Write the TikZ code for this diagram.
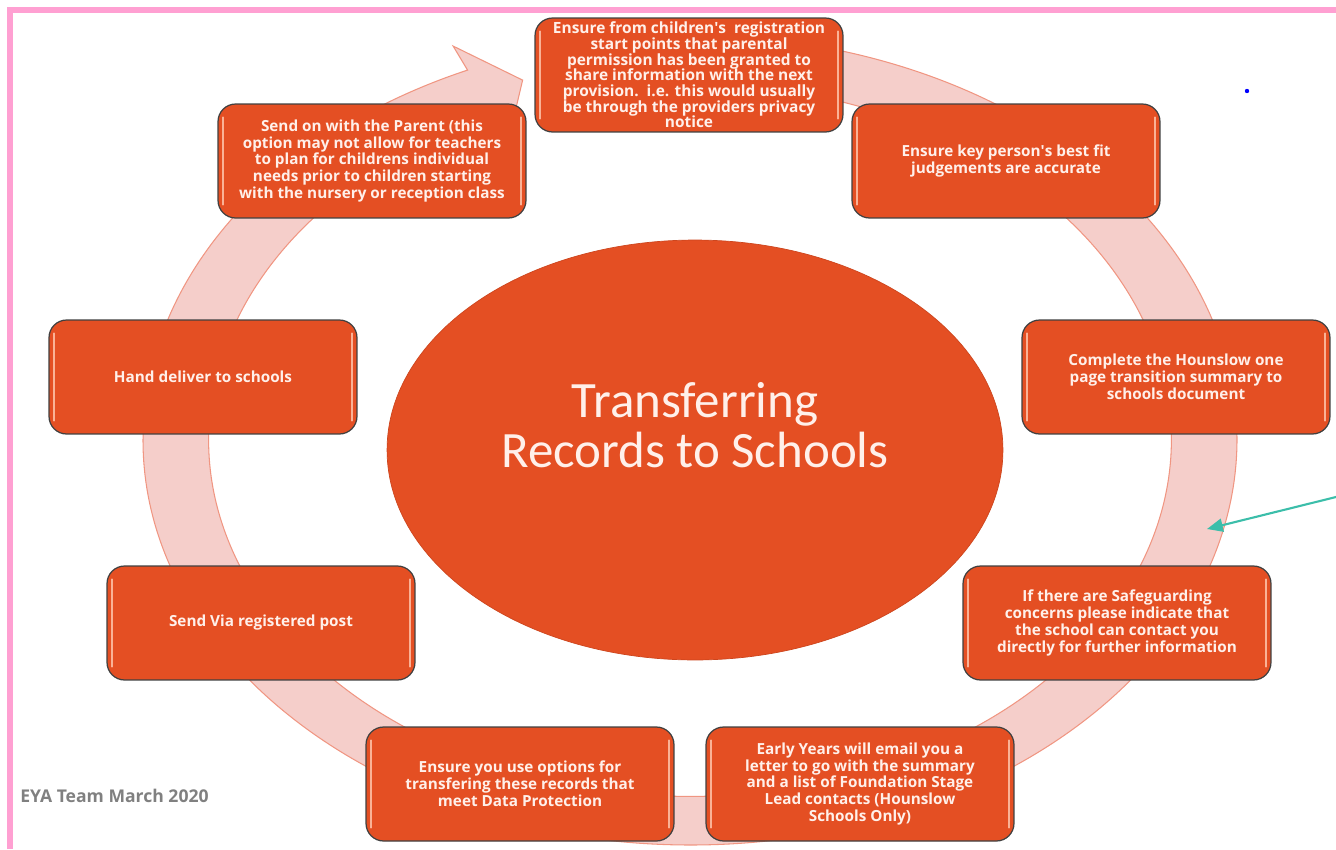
\documentclass[tikz,border=0pt]{standalone}
\usepackage{fontspec}
\setmainfont{Open Sans}
\newfontfamily\titlefont{Carlito}
\usetikzlibrary{shapes.geometric,arrows.meta}

\definecolor{boxorange}{RGB}{228,79,35}
\definecolor{boxedge}{RGB}{64,64,64}
\definecolor{boxtext}{RGB}{255,240,234}
\definecolor{glossline}{RGB}{250,178,150}
\definecolor{ringfill}{RGB}{245,206,202}
\definecolor{ringline}{RGB}{240,150,130}
\definecolor{framepink}{RGB}{255,160,210}
\definecolor{pointerteal}{RGB}{60,190,170}
\definecolor{creditgrey}{RGB}{128,128,128}

% light bevel strips down both sides of a step box
\newcommand{\boxgloss}[1]{%
  \draw[gloss] ([xshift=3.2pt,yshift=-8pt]#1.north west) -- ([xshift=3.2pt,yshift=8pt]#1.south west);
  \draw[gloss] ([xshift=-3.2pt,yshift=-8pt]#1.north east) -- ([xshift=-3.2pt,yshift=8pt]#1.south east);}

\begin{document}
\begin{tikzpicture}[x=0.02cm,y=-0.02cm,
  stepbox/.style={draw=boxedge, line width=0.7pt, fill=boxorange,
    rounded corners=10pt, minimum width=6.16cm, minimum height=2.28cm,
    inner sep=1pt, align=center, text=boxtext,
    font=\fontsize{8.7}{9.6}\selectfont\bfseries},
  gloss/.style={glossline, line width=1.3pt, line cap=round},
  hub/.style={ellipse, fill=boxorange, draw={rgb,255:red,205;green,70;blue,30},
    line width=0.4pt, minimum width=12.32cm, minimum height=8.4cm},
  hubtitle/.style={align=center, text=boxtext, inner sep=0pt,
    font=\titlefont\fontsize{29}{28.4}\selectfont},
  ring/.style={fill=ringfill, draw=ringline, line width=0.6pt},
  frame/.style={framepink, line width=3.4pt},
  pointer/.style={pointerteal, line width=1.2pt,
    -{Triangle[length=9pt,width=7.5pt]}},
  credit/.style={text=creditgrey, font=\fontsize{10}{12}\selectfont\bfseries,
    anchor=west, inner sep=0pt}]

\useasboundingbox (0,0) rectangle (1336,849);

% page frame
\draw[frame] (10,849) -- (10,10) -- (1336,10);

% circular arrow running clockwise round the steps
\begin{scope}[shift={(690,440)}, x=10.94cm, y=8.1cm]
  \path[ring] (80:1) arc[start angle=80, end angle=-246, radius=1]
    -- (114:1.065) -- (109:0.94) -- (114:0.815) -- (114:0.88)
    arc[start angle=-246, end angle=80, radius=0.88] -- cycle;
\end{scope}

% central disc and its title
\node[hub] (hub) at (695,450) {};
\node[hubtitle] (title) at (695,425) {Transferring\\Records to Schools};

% steps round the cycle
\node[stepbox, font=\fontsize{8.8}{8.9}\selectfont\bfseries] (consent) at (689,75)
  {Ensure from children\textquotesingle s\ \ registration\\ start points that parental\\
   permission has been granted to\\ share information with the next\\
   provision.\ \ i.e. this would usually\\ be through the providers privacy\\ notice};
\node[stepbox] (judge) at (1006,161) {Ensure key person\textquotesingle s best fit\\ judgements are accurate};
\node[stepbox] (summary) at (1176,377) {Complete the Hounslow one\\ page transition summary to\\ schools document};
\node[stepbox] (safeguard) at (1117,623) {If there are Safeguarding\\ concerns please indicate that\\ the school can contact you\\ directly for further information};
\node[stepbox] (letter) at (860,784) {Early Years will email you a\\ letter to go with the summary\\ and a list of Foundation Stage\\ Lead contacts (Hounslow\\ Schools Only)};
\node[stepbox] (protect) at (520,784) {Ensure you use options for\\ transfering these records that\\ meet Data Protection};
\node[stepbox] (post) at (261,623) {Send Via registered post};
\node[stepbox] (hand) at (203,377) {Hand deliver to schools};
\node[stepbox] (parent) at (372,161) {Send on with the Parent (this\\ option may not allow for teachers\\ to plan for childrens individual\\ needs prior to children starting\\ with the nursery or reception class};

\boxgloss{consent}\boxgloss{judge}\boxgloss{summary}\boxgloss{safeguard}
\boxgloss{letter}\boxgloss{protect}\boxgloss{post}\boxgloss{hand}\boxgloss{parent}

% footer
\node[credit] (credit) at (20,796) {EYA Team March 2020};

% stray blue dot
\node[circle, fill=blue, inner sep=0pt, minimum size=2.5pt] (dot) at (1247,91) {};

% teal pointer onto the ring
\coordinate (pointfrom) at (1336,497);
\coordinate (pointto) at (1207,529);
\draw[pointer] (pointfrom) -- (pointto);
\end{tikzpicture}
\end{document}
